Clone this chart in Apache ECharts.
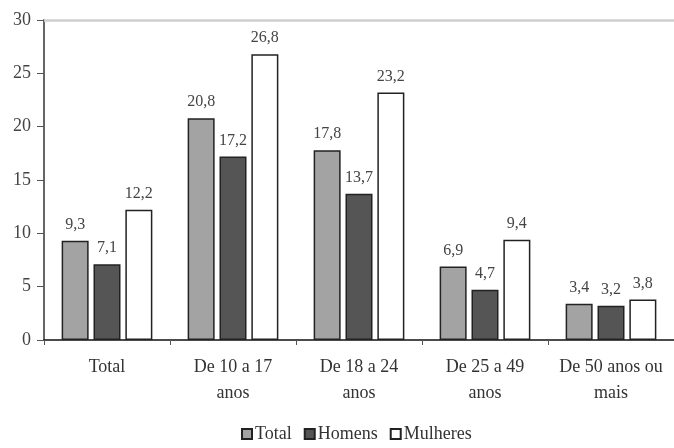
<!DOCTYPE html>
<html>
<head>
<meta charset="utf-8">
<script src="https://cdn.jsdelivr.net/npm/echarts@6/dist/echarts.min.js"></script>
<style>html,body{margin:0;padding:0;background:#fff;}#c{width:674px;height:448px;}</style>
</head>
<body>
<div id="c"></div>
<script>
const categories = ['Total', 'De 10 a 17\nanos', 'De 18 a 24\nanos', 'De 25 a 49\nanos', 'De 50 anos ou\nmais'];
const totalValues = [9.3, 20.8, 17.8, 6.9, 3.4];
const homensValues = [7.1, 17.2, 13.7, 4.7, 3.2];
const mulheresValues = [12.2, 26.8, 23.2, 9.4, 3.8];
const seriesNames = ['Total', 'Homens', 'Mulheres'];
const yTicks = [0, 5, 10, 15, 20, 25, 30];

const font = '"Liberation Serif", "DejaVu Serif", serif';
const fmt = p => String(p.value).replace('.', ',');
function mk(name, data, color) {
  return {
    name: name, type: 'bar', data: data,
    barWidth: 27, barGap: '18%',
    itemStyle: { color: color, borderColor: '#222', borderWidth: 1.5 },
    label: { show: true, position: 'top', distance: 8, formatter: fmt,
      fontFamily: font, fontSize: 16, color: '#444' }
  };
}
const s0 = mk(seriesNames[0], totalValues, '#a3a3a3');
s0.markLine = {
  silent: true, symbol: 'none', label: { show: false },
  lineStyle: { color: '#cfcfcf', width: 2.5, type: 'solid' },
  data: [{ yAxis: 30 }]
};
const chart = echarts.init(document.getElementById('c'));
chart.setOption({
  animation: false,
  backgroundColor: '#fff',
  grid: { left: 44, top: 20, width: 635, height: 320, containLabel: false },
  legend: {
    bottom: 0, left: 236, itemWidth: 10, itemHeight: 10, itemGap: 12,
    icon: 'rect',
    textStyle: { fontFamily: font, fontSize: 18, color: '#333', padding: [0, 0, 0, -2] },
    data: seriesNames
  },
  xAxis: {
    type: 'category', data: categories,
    axisLine: { lineStyle: { color: '#111', width: 1.5 } },
    axisTick: { show: true, length: 5, lineStyle: { color: '#555' } },
    axisLabel: { fontFamily: font, fontSize: 18, color: '#333', lineHeight: 26, margin: 14, interval: 0 }
  },
  yAxis: {
    type: 'value', min: 0, max: 30, interval: 5,
    axisLine: { show: true, lineStyle: { color: '#666', width: 2 } },
    axisTick: { show: true, length: 7, lineStyle: { color: '#555' } },
    splitLine: { show: false },
    axisLabel: { fontFamily: font, fontSize: 18, color: '#444', margin: 13,
      formatter: v => yTicks.indexOf(v) >= 0 ? String(v) : '' }
  },
  series: [
    s0,
    mk(seriesNames[1], homensValues, '#555555'),
    mk(seriesNames[2], mulheresValues, '#ffffff')
  ]
});
</script>
</body>
</html>
